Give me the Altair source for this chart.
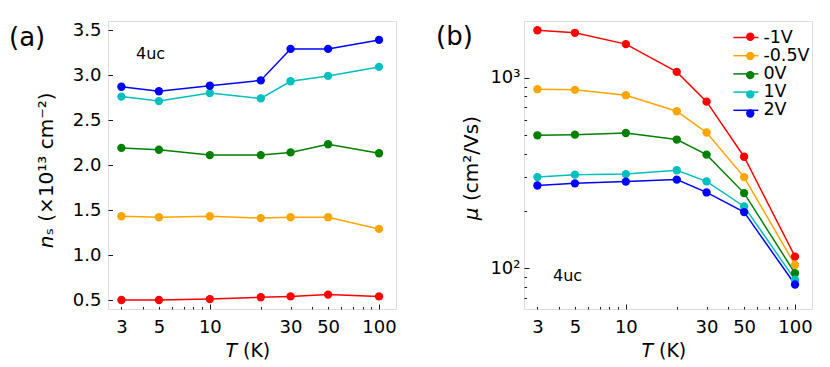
import altair as alt
import pandas as pd

# ---------------- data ----------------
T = [3, 5, 10, 20, 30, 50, 100]
voltages = ["-1V", "-0.5V", "0V", "1V", "2V"]
colors = ["#ff0000", "#ffa500", "#008000", "#00bfbf", "#0000ff"]

ns_m1 = [0.50, 0.50, 0.51, 0.53, 0.54, 0.56, 0.54]
ns_m05 = [1.43, 1.42, 1.43, 1.41, 1.42, 1.42, 1.29]
ns_0 = [2.19, 2.17, 2.11, 2.11, 2.14, 2.23, 2.13]
ns_1 = [2.76, 2.71, 2.80, 2.74, 2.93, 2.99, 3.09]
ns_2 = [2.87, 2.82, 2.88, 2.94, 3.29, 3.29, 3.39]

mu_m1 = [1780, 1725, 1505, 1075, 750, 385, 115]
mu_m05 = [872, 865, 811, 668, 516, 301, 104]
mu_0 = [499, 503, 513, 474, 395, 248, 94]
mu_1 = [301, 310, 312, 327, 286, 211, 87]
mu_2 = [272, 279, 285, 292, 250, 197, 82]

x_labels = [3, 5, 10, 30, 50, 100]
x_minor = [3, 4, 5, 6, 7, 8, 9, 10, 20, 30, 40, 50, 60, 70, 80, 90, 100]
ns_ticks = [0.5, 1.0, 1.5, 2.0, 2.5, 3.0, 3.5]
mu_labels = [100, 1000]
mu_minor = [70, 80, 90, 100, 200, 300, 400, 500, 600, 700, 800, 900, 1000]

ns_all = [ns_m1, ns_m05, ns_0, ns_1, ns_2]
mu_all = [mu_m1, mu_m05, mu_0, mu_1, mu_2]

# marker legend uses its own keys so it is not merged with the line legend
marker_keys = [v + " " for v in voltages]

rows = []
for v, k, nsl, mul in zip(voltages, marker_keys, ns_all, mu_all):
    for t, n, m in zip(T, nsl, mul):
        rows.append({"T": t, "V": v, "Vp": k, "ns": n, "mu": m})
df = pd.DataFrame(rows)

FONT = "DejaVu Sans"
W, H = 288, 288
LEG_FS = 17.5
LEG_ROWPAD = 0.2

xscale = alt.Scale(type="log", domain=[2.5, 126], nice=False)
cscale = alt.Scale(domain=voltages, range=colors)
pscale = alt.Scale(domain=marker_keys, range=colors)
ns_scale = alt.Scale(domain=[0.4, 3.6], nice=False, zero=False)
mu_scale = alt.Scale(type="log", domain=[61, 1990], nice=False)

LAB = dict(labelFontSize=18, labelFont=FONT, labelColor="black", grid=False,
           domain=False, ticks=False, tickSize=0, title=None,
           labelFlush=False, labelOverlap=False)
TCK = dict(labels=False, grid=False, domain=False, title=None, tickColor="black",
           tickWidth=0.9)


def major_cond(test):
    return {"condition": {"test": test, "value": 5}, "value": 2.5}


def txt(s, x, y, size, align="left", baseline="middle", angle=0, style="normal"):
    return alt.Chart(pd.DataFrame({"s": [s]})).mark_text(
        align=align, baseline=baseline, fontSize=size, font=FONT,
        fontStyle=style, angle=angle, color="black"
    ).encode(x=alt.value(x), y=alt.value(y), text="s:N")


base = alt.Chart(df)

# ---------------- panel (a) ----------------
a_lines = base.mark_line(strokeWidth=1.5).encode(
    x=alt.X("T:Q", scale=xscale, axis=alt.Axis(values=x_labels, labelPadding=9, **LAB)),
    y=alt.Y("ns:Q", scale=ns_scale, axis=alt.Axis(values=ns_ticks, format=".1f", labelPadding=7, **LAB)),
    color=alt.Color("V:N", scale=cscale, legend=None),
    order="T:Q",
)
a_points = base.mark_circle(size=70, opacity=1).encode(
    x=alt.X("T:Q", scale=xscale, axis=alt.Axis(orient="top", offset=-H, values=x_minor,
            tickSize=major_cond("datum.value == 10 || datum.value == 100"), **TCK)),
    y=alt.Y("ns:Q", scale=ns_scale, axis=alt.Axis(orient="right", offset=-W, values=ns_ticks,
            tickSize=4.5, **TCK)),
    color=alt.Color("V:N", scale=cscale, legend=None),
)
panel_a = alt.layer(
    a_lines, a_points,
    txt("(a)", -99, 16.5, 26),
    txt("4uc", 28, 33, 16),
    txt("T", 129, 336, 19, align="right", baseline="alphabetic", style="italic"),
    txt("(K)", 135, 336, 19, align="left", baseline="alphabetic"),
    txt("n", -55.5, 214.5, 20, align="right", baseline="alphabetic", angle=270, style="italic"),
    txt("ₛ (×10¹³ cm⁻²)", -55.5, 214.5, 20, align="left", baseline="alphabetic", angle=270),
).resolve_axis(x="independent", y="independent").properties(width=W, height=H)

# ---------------- panel (b) ----------------
b_lines = base.mark_line(strokeWidth=1.5).encode(
    x=alt.X("T:Q", scale=xscale, axis=alt.Axis(values=x_labels, labelPadding=9, **LAB)),
    y=alt.Y("mu:Q", scale=mu_scale, axis=alt.Axis(values=mu_labels, labelPadding=4,
            labelExpr="datum.value == 1000 ? '10³' : '10²'", **LAB)),
    color=alt.Color("V:N", scale=cscale, legend=alt.Legend(
        title=None, orient="none", legendX=212.4, legendY=7, symbolType="M-1.5,0L1.5,0",
        symbolSize=278, symbolStrokeWidth=1.5, symbolOpacity=1, labelFontSize=LEG_FS,
        labelFont=FONT, labelColor="black", labelOffset=8, rowPadding=LEG_ROWPAD, padding=0,
        zindex=1,
    )),
    order="T:Q",
)
b_points = base.mark_circle(size=70, opacity=1).encode(
    x=alt.X("T:Q", scale=xscale, axis=alt.Axis(orient="top", offset=-H, values=x_minor,
            tickSize=major_cond("datum.value == 10 || datum.value == 100"), **TCK)),
    y=alt.Y("mu:Q", scale=mu_scale, axis=alt.Axis(orient="right", offset=-W, values=mu_minor,
            tickSize=major_cond("datum.value == 100 || datum.value == 1000"), **TCK)),
    fill=alt.Fill("Vp:N", scale=pscale, legend=alt.Legend(
        title=None, orient="none", legendX=217.5, legendY=7, symbolType="circle",
        symbolSize=70, symbolStrokeWidth=0, symbolOpacity=1, labelFontSize=LEG_FS,
        labelFont=FONT, labelExpr="' '", labelOffset=0, rowPadding=LEG_ROWPAD, padding=0,
        zindex=2,
    )),
)
panel_b = alt.layer(
    b_lines, b_points,
    txt("(b)", -88, 16, 26),
    txt("4uc", 29, 255, 16),
    txt("T", 129, 336, 19, align="right", baseline="alphabetic", style="italic"),
    txt("(K)", 135, 336, 19, align="left", baseline="alphabetic"),
    txt("μ", -46, 186.5, 20, align="right", baseline="alphabetic", angle=270, style="italic"),
    txt("(cm²/Vs)", -46, 180, 20, align="left", baseline="alphabetic", angle=270),
).resolve_axis(x="independent", y="independent").properties(width=W, height=H)

chart = alt.hconcat(panel_a, panel_b, spacing=38).resolve_scale(
    color="independent", fill="independent"
).resolve_legend(color="independent", fill="independent").properties(
    padding={"left": 0, "top": 12, "right": 0, "bottom": 0}
).configure_view(stroke="#222222", strokeWidth=1).configure(font=FONT)

chart.save("out.html", embed_options={"renderer": "svg", "actions": False})
